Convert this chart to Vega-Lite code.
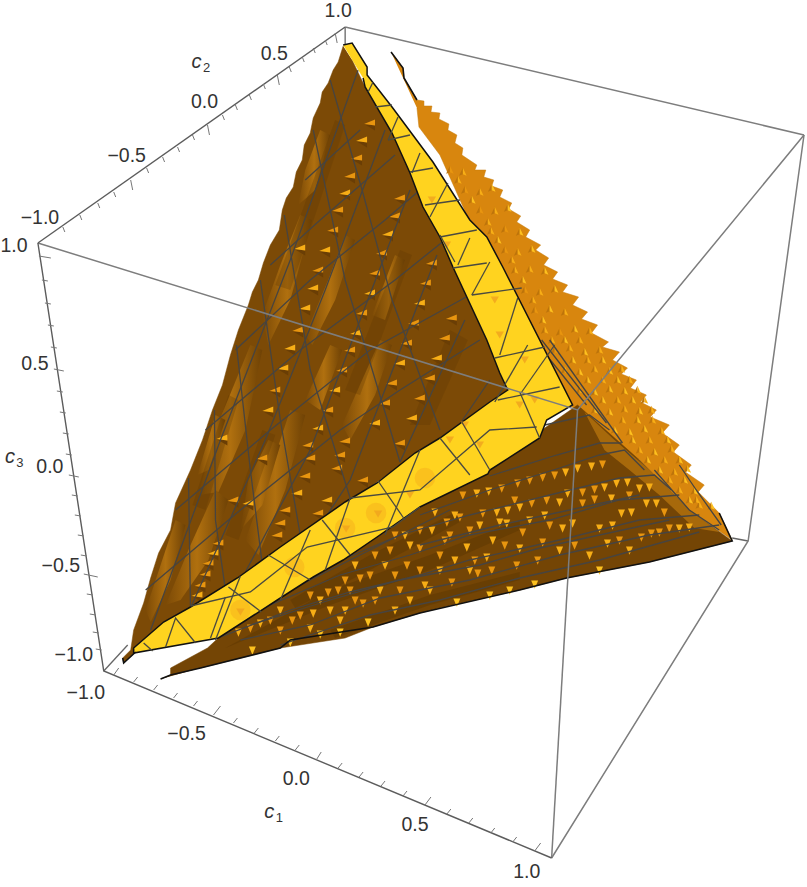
{"$schema":"https://vega.github.io/schema/vega-lite/v6.json","width":807,"height":887,"padding":0,"autosize":{"type":"fit","contains":"padding"},"background":"#ffffff","config":{"view":{"stroke":null}},
"datasets":{
"rightSurface":[{"x":391,"y":52},{"x":403,"y":68},{"x":404,"y":78},{"x":417,"y":100},{"x":424,"y":101},{"x":424,"y":106},{"x":432,"y":106},{"x":431,"y":112},{"x":440,"y":113},{"x":439,"y":119},{"x":449,"y":124},{"x":448,"y":130},{"x":457,"y":135},{"x":455,"y":143},{"x":463,"y":148},{"x":462,"y":155},{"x":477,"y":165},{"x":475,"y":170},{"x":486,"y":170},{"x":484,"y":177},{"x":494,"y":180},{"x":492,"y":186},{"x":503,"y":190},{"x":500,"y":197},{"x":512,"y":203},{"x":509,"y":209},{"x":521,"y":216},{"x":517,"y":222},{"x":530,"y":230},{"x":526,"y":237},{"x":541,"y":245},{"x":536,"y":250},{"x":549,"y":258},{"x":544,"y":265},{"x":558,"y":272},{"x":553,"y":279},{"x":568,"y":285},{"x":563,"y":292},{"x":579,"y":297},{"x":573,"y":305},{"x":588,"y":312},{"x":582,"y":319},{"x":598,"y":325},{"x":592,"y":333},{"x":609,"y":342},{"x":603,"y":347},{"x":620,"y":352},{"x":613,"y":360},{"x":628,"y":368},{"x":622,"y":374},{"x":637,"y":380},{"x":631,"y":388},{"x":647,"y":395},{"x":641,"y":402},{"x":657,"y":410},{"x":651,"y":417},{"x":670,"y":425},{"x":663,"y":433},{"x":680,"y":445},{"x":674,"y":452},{"x":692,"y":465},{"x":686,"y":472},{"x":705,"y":485},{"x":699,"y":492},{"x":720,"y":513},{"x":733,"y":540},{"x":690,"y":510},{"x":640,"y":460},{"x":570,"y":405},{"x":530,"y":340},{"x":490,"y":267},{"x":470,"y":222},{"x":440,"y":155},{"x":419,"y":127},{"x":417,"y":108}],
"lowerSurface":[{"x":160,"y":679},{"x":170,"y":675},{"x":170,"y":668},{"x":207,"y":648},{"x":220,"y":636},{"x":277,"y":598},{"x":343,"y":558},{"x":420,"y":507},{"x":488,"y":468},{"x":578,"y":405},{"x":640,"y":460},{"x":690,"y":510},{"x":733,"y":541},{"x":650,"y":562},{"x":567,"y":578},{"x":520,"y":590},{"x":440,"y":608},{"x":420,"y":613},{"x":373,"y":627},{"x":345,"y":638},{"x":280,"y":648},{"x":240,"y":658},{"x":200,"y":668}],
"lowerGlow":[{"x":585,"y":412},{"x":615,"y":440},{"x":650,"y":470},{"x":690,"y":510},{"x":720,"y":532},{"x":695,"y":528},{"x":660,"y":495},{"x":630,"y":470},{"x":605,"y":450}],
"lowerShade":[{"p":1,"x":225,"y":648},{"p":1,"x":330,"y":590},{"p":1,"x":430,"y":555},{"p":1,"x":520,"y":520},{"p":1,"x":520,"y":530},{"p":1,"x":430,"y":570},{"p":1,"x":330,"y":605},{"p":2,"x":290,"y":600},{"p":2,"x":370,"y":555},{"p":2,"x":460,"y":510},{"p":2,"x":460,"y":522},{"p":2,"x":370,"y":570},{"p":2,"x":295,"y":608},{"p":3,"x":330,"y":630},{"p":3,"x":430,"y":595},{"p":3,"x":520,"y":572},{"p":3,"x":520,"y":580},{"p":3,"x":430,"y":605},{"p":3,"x":335,"y":638}],
"leftSurface":[{"x":343,"y":46},{"x":338,"y":62},{"x":333,"y":70},{"x":328,"y":83},{"x":322,"y":92},{"x":320,"y":103},{"x":313,"y":118},{"x":310,"y":133},{"x":304,"y":145},{"x":302,"y":160},{"x":296,"y":172},{"x":293,"y":187},{"x":286,"y":198},{"x":282,"y":210},{"x":279,"y":230},{"x":270,"y":245},{"x":263,"y":263},{"x":258,"y":280},{"x":252,"y":292},{"x":248,"y":305},{"x":238,"y":330},{"x":230,"y":355},{"x":222,"y":385},{"x":212,"y":410},{"x":202,"y":440},{"x":190,"y":470},{"x":175,"y":503},{"x":170,"y":530},{"x":158,"y":553},{"x":150,"y":578},{"x":143,"y":603},{"x":133,"y":630},{"x":130,"y":650},{"x":122,"y":658},{"x":123,"y":663},{"x":135,"y":652},{"x":508,"y":390},{"x":487,"y":340},{"x":440,"y":237},{"x":392,"y":133},{"x":365,"y":87},{"x":352,"y":60}],
"leftRidges":[{"p":1,"x":250,"y":345},{"p":1,"x":262,"y":350},{"p":1,"x":245,"y":430},{"p":1,"x":218,"y":492},{"p":1,"x":198,"y":495},{"p":1,"x":215,"y":430},{"p":2,"x":300,"y":215},{"p":2,"x":312,"y":220},{"p":2,"x":290,"y":300},{"p":2,"x":268,"y":345},{"p":2,"x":262,"y":315},{"p":2,"x":280,"y":265},{"p":3,"x":215,"y":490},{"p":3,"x":228,"y":500},{"p":3,"x":208,"y":560},{"p":3,"x":180,"y":600},{"p":3,"x":165,"y":605},{"p":3,"x":190,"y":545},{"p":4,"x":290,"y":410},{"p":4,"x":305,"y":415},{"p":4,"x":285,"y":490},{"p":4,"x":258,"y":555},{"p":4,"x":245,"y":540},{"p":4,"x":270,"y":470},{"p":5,"x":345,"y":235},{"p":5,"x":355,"y":240},{"p":5,"x":335,"y":300},{"p":5,"x":312,"y":345},{"p":5,"x":305,"y":335},{"p":5,"x":328,"y":280},{"p":6,"x":380,"y":340},{"p":6,"x":392,"y":345},{"p":6,"x":375,"y":395},{"p":6,"x":350,"y":440},{"p":6,"x":342,"y":425},{"p":6,"x":362,"y":380},{"p":7,"x":175,"y":520},{"p":7,"x":185,"y":525},{"p":7,"x":170,"y":580},{"p":7,"x":150,"y":622},{"p":7,"x":145,"y":610},{"p":7,"x":160,"y":565},{"p":8,"x":320,"y":130},{"p":8,"x":330,"y":135},{"p":8,"x":315,"y":190},{"p":8,"x":298,"y":205},{"p":8,"x":305,"y":170},{"p":9,"x":268,"y":440},{"p":9,"x":280,"y":445},{"p":9,"x":262,"y":505},{"p":9,"x":240,"y":530},{"p":9,"x":248,"y":480},{"p":10,"x":330,"y":345},{"p":10,"x":342,"y":350},{"p":10,"x":320,"y":410},{"p":10,"x":305,"y":400},{"p":11,"x":395,"y":255},{"p":11,"x":405,"y":260},{"p":11,"x":385,"y":320},{"p":11,"x":372,"y":315},{"p":12,"x":215,"y":415},{"p":12,"x":225,"y":420},{"p":12,"x":208,"y":470},{"p":12,"x":197,"y":475}],
"leftDark":[{"p":1,"x":335,"y":120},{"p":1,"x":345,"y":125},{"p":1,"x":290,"y":290},{"p":1,"x":275,"y":285},{"p":2,"x":262,"y":430},{"p":2,"x":275,"y":435},{"p":2,"x":238,"y":540},{"p":2,"x":225,"y":535},{"p":3,"x":400,"y":250},{"p":3,"x":412,"y":255},{"p":3,"x":360,"y":395},{"p":3,"x":345,"y":390},{"p":4,"x":228,"y":395},{"p":4,"x":238,"y":400},{"p":4,"x":205,"y":510},{"p":4,"x":192,"y":505},{"p":5,"x":450,"y":330},{"p":5,"x":468,"y":340},{"p":5,"x":430,"y":425},{"p":5,"x":410,"y":425}],
"leftSpikes":[{"x":370,"y":125,"t":"a"},{"x":362,"y":142,"t":"b"},{"x":357,"y":160,"t":"a"},{"x":350,"y":178,"t":"a"},{"x":345,"y":195,"t":"b"},{"x":338,"y":212,"t":"a"},{"x":333,"y":232,"t":"a"},{"x":325,"y":252,"t":"b"},{"x":318,"y":272,"t":"a"},{"x":313,"y":290,"t":"b"},{"x":305,"y":310,"t":"b"},{"x":298,"y":332,"t":"a"},{"x":290,"y":350,"t":"b"},{"x":283,"y":370,"t":"b"},{"x":275,"y":392,"t":"a"},{"x":268,"y":412,"t":"b"},{"x":233,"y":502,"t":"a"},{"x":218,"y":545,"t":"a"},{"x":213,"y":555,"t":"b"},{"x":208,"y":565,"t":"a"},{"x":205,"y":576,"t":"a"},{"x":200,"y":587,"t":"a"},{"x":197,"y":597,"t":"b"},{"x":400,"y":200,"t":"a"},{"x":395,"y":218,"t":"a"},{"x":388,"y":236,"t":"b"},{"x":382,"y":255,"t":"a"},{"x":375,"y":275,"t":"a"},{"x":370,"y":295,"t":"b"},{"x":362,"y":315,"t":"a"},{"x":356,"y":335,"t":"b"},{"x":350,"y":352,"t":"a"},{"x":342,"y":372,"t":"a"},{"x":335,"y":392,"t":"b"},{"x":328,"y":412,"t":"a"},{"x":318,"y":430,"t":"b"},{"x":308,"y":447,"t":"a"},{"x":310,"y":460,"t":"a"},{"x":305,"y":478,"t":"a"},{"x":297,"y":495,"t":"b"},{"x":285,"y":512,"t":"a"},{"x":280,"y":525,"t":"a"},{"x":277,"y":537,"t":"a"},{"x":432,"y":265,"t":"a"},{"x":426,"y":285,"t":"a"},{"x":420,"y":305,"t":"b"},{"x":414,"y":325,"t":"a"},{"x":407,"y":345,"t":"a"},{"x":400,"y":365,"t":"b"},{"x":392,"y":385,"t":"a"},{"x":385,"y":405,"t":"a"},{"x":375,"y":425,"t":"b"},{"x":345,"y":443,"t":"a"},{"x":340,"y":457,"t":"a"},{"x":337,"y":470,"t":"a"},{"x":327,"y":502,"t":"b"},{"x":318,"y":515,"t":"a"},{"x":452,"y":320,"t":"a"},{"x":445,"y":340,"t":"a"},{"x":437,"y":360,"t":"b"},{"x":430,"y":380,"t":"a"},{"x":420,"y":400,"t":"a"},{"x":412,"y":420,"t":"b"},{"x":400,"y":445,"t":"a"},{"x":363,"y":482,"t":"a"},{"x":222,"y":440,"t":"b"},{"x":262,"y":460,"t":"a"},{"x":248,"y":505,"t":"b"},{"x":300,"y":250,"t":"b"}],
"lowerSpikes":[{"x":530,"y":480,"t":"a"},{"x":543,"y":477,"t":"a"},{"x":555,"y":475,"t":"a"},{"x":566,"y":472,"t":"b"},{"x":578,"y":468,"t":"b"},{"x":592,"y":466,"t":"b"},{"x":603,"y":464,"t":"a"},{"x":463,"y":495,"t":"a"},{"x":477,"y":493,"t":"b"},{"x":489,"y":491,"t":"b"},{"x":502,"y":488,"t":"a"},{"x":518,"y":483,"t":"a"},{"x":568,"y":493,"t":"b"},{"x":583,"y":492,"t":"a"},{"x":595,"y":489,"t":"a"},{"x":605,"y":487,"t":"b"},{"x":617,"y":483,"t":"b"},{"x":628,"y":482,"t":"b"},{"x":640,"y":488,"t":"b"},{"x":650,"y":487,"t":"b"},{"x":483,"y":513,"t":"a"},{"x":497,"y":512,"t":"b"},{"x":508,"y":510,"t":"b"},{"x":520,"y":507,"t":"b"},{"x":532,"y":503,"t":"a"},{"x":547,"y":500,"t":"a"},{"x":560,"y":502,"t":"b"},{"x":583,"y":503,"t":"a"},{"x":595,"y":499,"t":"a"},{"x":612,"y":498,"t":"b"},{"x":622,"y":513,"t":"b"},{"x":632,"y":512,"t":"b"},{"x":647,"y":503,"t":"b"},{"x":657,"y":503,"t":"b"},{"x":670,"y":528,"t":"a"},{"x":680,"y":528,"t":"b"},{"x":690,"y":527,"t":"b"},{"x":642,"y":537,"t":"a"},{"x":652,"y":533,"t":"a"},{"x":660,"y":532,"t":"a"},{"x":447,"y":522,"t":"a"},{"x":460,"y":517,"t":"a"},{"x":500,"y":522,"t":"b"},{"x":507,"y":523,"t":"b"},{"x":523,"y":532,"t":"a"},{"x":530,"y":520,"t":"b"},{"x":543,"y":542,"t":"a"},{"x":563,"y":528,"t":"b"},{"x":573,"y":523,"t":"b"},{"x":600,"y":528,"t":"b"},{"x":613,"y":525,"t":"b"},{"x":452,"y":582,"t":"a"},{"x":478,"y":573,"t":"a"},{"x":492,"y":570,"t":"a"},{"x":517,"y":565,"t":"a"},{"x":538,"y":560,"t":"a"},{"x":608,"y":543,"t":"b"},{"x":445,"y":540,"t":"a"},{"x":467,"y":547,"t":"b"},{"x":493,"y":540,"t":"b"},{"x":487,"y":557,"t":"b"},{"x":475,"y":560,"t":"a"},{"x":363,"y":603,"t":"a"},{"x":375,"y":555,"t":"a"},{"x":395,"y":535,"t":"a"},{"x":407,"y":565,"t":"a"},{"x":385,"y":565,"t":"b"},{"x":328,"y":592,"t":"a"},{"x":338,"y":590,"t":"a"},{"x":350,"y":590,"t":"a"},{"x":292,"y":620,"t":"a"},{"x":260,"y":623,"t":"b"},{"x":250,"y":628,"t":"a"},{"x":238,"y":632,"t":"b"},{"x":313,"y":613,"t":"b"},{"x":300,"y":615,"t":"a"},{"x":420,"y":570,"t":"a"},{"x":430,"y":590,"t":"b"},{"x":400,"y":590,"t":"a"},{"x":440,"y":570,"t":"b"},{"x":380,"y":590,"t":"b"},{"x":360,"y":578,"t":"a"},{"x":420,"y":530,"t":"a"},{"x":435,"y":512,"t":"b"},{"x":455,"y":560,"t":"b"},{"x":410,"y":545,"t":"b"},{"x":345,"y":610,"t":"b"},{"x":395,"y":610,"t":"b"},{"x":270,"y":620,"t":"a"},{"x":280,"y":610,"t":"b"},{"x":310,"y":595,"t":"a"},{"x":320,"y":600,"t":"b"},{"x":345,"y":580,"t":"a"},{"x":355,"y":565,"t":"b"},{"x":370,"y":575,"t":"a"},{"x":390,"y":550,"t":"a"},{"x":405,"y":535,"t":"b"},{"x":420,"y":548,"t":"a"},{"x":432,"y":530,"t":"b"},{"x":450,"y":535,"t":"a"},{"x":455,"y":515,"t":"b"},{"x":470,"y":530,"t":"a"},{"x":480,"y":525,"t":"b"},{"x":440,"y":555,"t":"a"},{"x":425,"y":585,"t":"b"},{"x":410,"y":600,"t":"b"},{"x":395,"y":575,"t":"a"},{"x":375,"y":600,"t":"a"},{"x":330,"y":610,"t":"b"},{"x":355,"y":600,"t":"a"},{"x":340,"y":620,"t":"b"},{"x":280,"y":630,"t":"a"},{"x":310,"y":628,"t":"b"},{"x":470,"y":570,"t":"b"},{"x":505,"y":545,"t":"a"},{"x":520,"y":548,"t":"b"},{"x":550,"y":525,"t":"a"},{"x":560,"y":550,"t":"b"},{"x":575,"y":545,"t":"a"},{"x":590,"y":555,"t":"b"},{"x":620,"y":540,"t":"a"},{"x":630,"y":550,"t":"b"},{"x":665,"y":512,"t":"a"},{"x":630,"y":495,"t":"a"},{"x":545,"y":515,"t":"b"},{"x":515,"y":500,"t":"a"},{"x":320,"y":634,"t":"c"},{"x":340,"y":632,"t":"c"},{"x":368,"y":622,"t":"c"},{"x":252,"y":650,"t":"c"},{"x":290,"y":642,"t":"c"},{"x":457,"y":602,"t":"c"},{"x":490,"y":595,"t":"c"},{"x":510,"y":590,"t":"c"},{"x":535,"y":584,"t":"c"},{"x":600,"y":570,"t":"c"}],
"rightSpikes":[{"x":450,"y":170,"t":"a"},{"x":463,"y":172,"t":"b"},{"x":465,"y":190,"t":"a"},{"x":480,"y":192,"t":"b"},{"x":492,"y":188,"t":"c"},{"x":480,"y":210,"t":"a"},{"x":495,"y":211,"t":"b"},{"x":508,"y":208,"t":"c"},{"x":491,"y":231,"t":"b"},{"x":505,"y":229,"t":"a"},{"x":520,"y":232,"t":"c"},{"x":505,"y":250,"t":"a"},{"x":518,"y":252,"t":"b"},{"x":532,"y":249,"t":"c"},{"x":515,"y":270,"t":"b"},{"x":530,"y":269,"t":"b"},{"x":545,"y":271,"t":"c"},{"x":525,"y":290,"t":"a"},{"x":540,"y":292,"t":"b"},{"x":555,"y":289,"t":"c"},{"x":535,"y":310,"t":"a"},{"x":550,"y":309,"t":"c"},{"x":565,"y":312,"t":"b"},{"x":545,"y":330,"t":"b"},{"x":560,"y":332,"t":"a"},{"x":575,"y":329,"t":"c"},{"x":590,"y":331,"t":"b"},{"x":555,"y":350,"t":"a"},{"x":570,"y":348,"t":"b"},{"x":585,"y":352,"t":"c"},{"x":600,"y":350,"t":"b"},{"x":565,"y":370,"t":"b"},{"x":580,"y":372,"t":"c"},{"x":595,"y":369,"t":"b"},{"x":610,"y":371,"t":"c"},{"x":622,"y":369,"t":"b"},{"x":580,"y":390,"t":"b"},{"x":595,"y":392,"t":"c"},{"x":610,"y":389,"t":"c"},{"x":625,"y":391,"t":"c"},{"x":638,"y":390,"t":"b"},{"x":595,"y":410,"t":"c"},{"x":610,"y":412,"t":"c"},{"x":625,"y":409,"t":"b"},{"x":640,"y":411,"t":"c"},{"x":652,"y":410,"t":"b"},{"x":615,"y":430,"t":"c"},{"x":630,"y":432,"t":"c"},{"x":645,"y":429,"t":"c"},{"x":662,"y":431,"t":"b"},{"x":640,"y":450,"t":"b"},{"x":655,"y":452,"t":"c"},{"x":672,"y":449,"t":"b"},{"x":660,"y":470,"t":"c"},{"x":675,"y":472,"t":"b"},{"x":688,"y":469,"t":"c"},{"x":680,"y":490,"t":"b"},{"x":695,"y":491,"t":"c"},{"x":700,"y":505,"t":"b"},{"x":712,"y":506,"t":"c"},{"x":458,"y":180,"t":"b"},{"x":472,"y":200,"t":"c"},{"x":488,"y":222,"t":"b"},{"x":498,"y":240,"t":"c"},{"x":512,"y":260,"t":"b"},{"x":523,"y":280,"t":"c"},{"x":533,"y":300,"t":"b"},{"x":543,"y":320,"t":"c"},{"x":552,"y":340,"t":"b"},{"x":565,"y":340,"t":"c"},{"x":580,"y":340,"t":"b"},{"x":573,"y":360,"t":"c"},{"x":588,"y":360,"t":"b"},{"x":603,"y":360,"t":"c"},{"x":588,"y":380,"t":"c"},{"x":603,"y":380,"t":"b"},{"x":618,"y":380,"t":"c"},{"x":630,"y":380,"t":"b"},{"x":603,"y":400,"t":"c"},{"x":618,"y":400,"t":"b"},{"x":633,"y":400,"t":"c"},{"x":645,"y":400,"t":"b"},{"x":623,"y":420,"t":"b"},{"x":638,"y":420,"t":"c"},{"x":653,"y":420,"t":"b"},{"x":668,"y":440,"t":"c"},{"x":650,"y":440,"t":"b"},{"x":633,"y":440,"t":"c"},{"x":648,"y":460,"t":"c"},{"x":665,"y":460,"t":"b"},{"x":680,"y":460,"t":"c"},{"x":670,"y":480,"t":"b"},{"x":685,"y":480,"t":"c"},{"x":697,"y":500,"t":"b"},{"x":690,"y":500,"t":"c"}],
"yellowBand":[{"x":343,"y":45},{"x":352,"y":43},{"x":367,"y":67},{"x":367,"y":75},{"x":392,"y":107},{"x":433,"y":162},{"x":470,"y":220},{"x":487,"y":237},{"x":503,"y":267},{"x":573,"y":405},{"x":547,"y":420},{"x":540,"y":438},{"x":490,"y":470},{"x":488,"y":474},{"x":420,"y":507},{"x":377,"y":537},{"x":343,"y":560},{"x":313,"y":577},{"x":277,"y":600},{"x":218,"y":638},{"x":133,"y":653},{"x":133,"y":648},{"x":163,"y":622},{"x":190,"y":607},{"x":237,"y":578},{"x":280,"y":547},{"x":345,"y":502},{"x":377,"y":483},{"x":415,"y":453},{"x":440,"y":438},{"x":490,"y":402},{"x":508,"y":390},{"x":500,"y":373},{"x":487,"y":340},{"x":453,"y":267},{"x":440,"y":237},{"x":423,"y":207},{"x":410,"y":173},{"x":392,"y":133},{"x":365,"y":87},{"x":363,"y":78}],
"blobsBig":[{"x":240,"y":610},{"x":376,"y":513},{"x":345,"y":528},{"x":425,"y":478},{"x":294,"y":567}],
"blobsSmall":[{"x":240,"y":612},{"x":378,"y":514},{"x":346,"y":529},{"x":450,"y":440},{"x":480,"y":445},{"x":520,"y":405},{"x":447,"y":245},{"x":432,"y":200},{"x":500,"y":335},{"x":525,"y":360},{"x":495,"y":300},{"x":535,"y":400},{"x":410,"y":495},{"x":465,"y":425}],
"lines":[{"p":"a1","x":330,"y":80},{"p":"a1","x":362,"y":190},{"p":"a1","x":392,"y":300},{"p":"a1","x":440,"y":430},{"p":"a2","x":313,"y":130},{"p":"a2","x":345,"y":280},{"p":"a2","x":400,"y":462},{"p":"a3","x":284,"y":215},{"p":"a3","x":310,"y":370},{"p":"a3","x":350,"y":498},{"p":"a4","x":260,"y":280},{"p":"a4","x":280,"y":420},{"p":"a4","x":300,"y":535},{"p":"a5","x":236,"y":345},{"p":"a5","x":250,"y":470},{"p":"a5","x":262,"y":565},{"p":"a6","x":214,"y":410},{"p":"a6","x":215,"y":520},{"p":"a6","x":225,"y":590},{"p":"a7","x":188,"y":478},{"p":"a7","x":190,"y":610},{"p":"b1","x":358,"y":70},{"p":"b1","x":290,"y":260},{"p":"b1","x":220,"y":440},{"p":"b1","x":150,"y":630},{"p":"b2","x":385,"y":130},{"p":"b2","x":325,"y":290},{"p":"b2","x":265,"y":440},{"p":"b2","x":190,"y":608},{"p":"b3","x":410,"y":190},{"p":"b3","x":310,"y":450},{"p":"b3","x":245,"y":572},{"p":"b4","x":437,"y":255},{"p":"b4","x":350,"y":480},{"p":"b4","x":325,"y":518},{"p":"b5","x":465,"y":320},{"p":"b5","x":400,"y":462},{"p":"b6","x":490,"y":380},{"p":"b6","x":460,"y":424},{"p":"c1","x":145,"y":590},{"p":"c1","x":240,"y":510},{"p":"c1","x":340,"y":430},{"p":"c1","x":400,"y":390},{"p":"c1","x":480,"y":340},{"p":"c2","x":175,"y":510},{"p":"c2","x":270,"y":430},{"p":"c2","x":370,"y":350},{"p":"c2","x":470,"y":295},{"p":"c3","x":205,"y":430},{"p":"c3","x":300,"y":350},{"p":"c3","x":395,"y":280},{"p":"c3","x":445,"y":240},{"p":"c4","x":235,"y":350},{"p":"c4","x":310,"y":280},{"p":"c4","x":385,"y":220},{"p":"c4","x":420,"y":190},{"p":"c5","x":270,"y":265},{"p":"c5","x":320,"y":220},{"p":"c5","x":395,"y":155},{"p":"c6","x":305,"y":180},{"p":"c6","x":360,"y":130},
{"p":"l1","x":220,"y":637},{"p":"l1","x":290,"y":610},{"p":"l1","x":350,"y":592},{"p":"l1","x":420,"y":575},{"p":"l1","x":470,"y":560},{"p":"l1","x":560,"y":540},{"p":"l1","x":640,"y":520},{"p":"l1","x":700,"y":515},{"p":"l2","x":270,"y":605},{"p":"l2","x":340,"y":575},{"p":"l2","x":410,"y":555},{"p":"l2","x":470,"y":535},{"p":"l2","x":550,"y":520},{"p":"l2","x":620,"y":500},{"p":"l2","x":680,"y":495},{"p":"l3","x":330,"y":565},{"p":"l3","x":400,"y":535},{"p":"l3","x":470,"y":515},{"p":"l3","x":550,"y":495},{"p":"l3","x":620,"y":478},{"p":"l3","x":655,"y":475},{"p":"l3","x":672,"y":490},{"p":"l4","x":420,"y":515},{"p":"l4","x":490,"y":490},{"p":"l4","x":560,"y":468},{"p":"l4","x":600,"y":455},{"p":"l4","x":625,"y":450},{"p":"l4","x":645,"y":470},{"p":"l5","x":490,"y":476},{"p":"l5","x":557,"y":455},{"p":"l5","x":600,"y":443},{"p":"l5","x":622,"y":443},{"p":"l6","x":545,"y":425},{"p":"l6","x":590,"y":415},{"p":"l6","x":610,"y":430},{"p":"l7","x":280,"y":645},{"p":"l7","x":370,"y":615},{"p":"l7","x":440,"y":600},{"p":"l7","x":520,"y":578},{"p":"l7","x":600,"y":560},{"p":"l7","x":700,"y":532},{"p":"l8","x":240,"y":640},{"p":"l8","x":310,"y":625},{"p":"l8","x":380,"y":598},{"p":"l8","x":470,"y":580},{"p":"l8","x":560,"y":555},{"p":"l8","x":650,"y":535},{"p":"l8","x":720,"y":525},{"p":"l9","x":680,"y":465},{"p":"l9","x":697,"y":490},{"p":"l9","x":722,"y":525},{"p":"l10","x":655,"y":470},{"p":"l10","x":690,"y":510},{"p":"l10","x":720,"y":530},{"p":"l11","x":300,"y":585},{"p":"l11","x":380,"y":545},{"p":"l11","x":450,"y":510},{"p":"l12","x":250,"y":625},{"p":"l12","x":330,"y":600},{"p":"l12","x":400,"y":580},{"p":"l12","x":480,"y":565},{"p":"l12","x":540,"y":548},{"p":"l12","x":600,"y":535},{"p":"l12","x":670,"y":520},{"p":"l13","x":420,"y":545},{"p":"l13","x":500,"y":525},{"p":"l13","x":570,"y":510},{"p":"l13","x":640,"y":495},
{"p":"r1","x":537,"y":343},{"p":"r1","x":587,"y":405},{"p":"r2","x":542,"y":340},{"p":"r2","x":607,"y":423},{"p":"r3","x":550,"y":340},{"p":"r3","x":623,"y":443}],
"bandMesh":[{"p":1,"x":143,"y":643},{"p":1,"x":152,"y":651},{"p":2,"x":165,"y":647},{"p":2,"x":175,"y":618},{"p":2,"x":195,"y":643},{"p":3,"x":210,"y":638},{"p":3,"x":225,"y":597},{"p":4,"x":228,"y":587},{"p":4,"x":261,"y":612},{"p":5,"x":190,"y":606},{"p":5,"x":250,"y":592},{"p":5,"x":307,"y":547},{"p":5,"x":393,"y":527},{"p":5,"x":420,"y":507},{"p":6,"x":240,"y":576},{"p":6,"x":215,"y":640},{"p":7,"x":268,"y":555},{"p":7,"x":310,"y":580},{"p":8,"x":310,"y":530},{"p":8,"x":280,"y":600},{"p":9,"x":322,"y":520},{"p":9,"x":350,"y":555},{"p":10,"x":350,"y":498},{"p":10,"x":325,"y":570},{"p":11,"x":378,"y":481},{"p":11,"x":405,"y":520},{"p":12,"x":420,"y":450},{"p":12,"x":385,"y":535},{"p":13,"x":350,"y":498},{"p":13,"x":420,"y":490},{"p":13,"x":490,"y":430},{"p":13,"x":537,"y":427},{"p":14,"x":440,"y":438},{"p":14,"x":470,"y":475},{"p":15,"x":462,"y":422},{"p":15,"x":490,"y":470},{"p":16,"x":498,"y":400},{"p":16,"x":560,"y":387},{"p":17,"x":520,"y":392},{"p":17,"x":540,"y":438},{"p":18,"x":528,"y":345},{"p":18,"x":495,"y":402},{"p":19,"x":555,"y":345},{"p":19,"x":522,"y":392},{"p":20,"x":495,"y":358},{"p":20,"x":545,"y":347},{"p":21,"x":518,"y":298},{"p":21,"x":500,"y":355},{"p":22,"x":472,"y":295},{"p":22,"x":522,"y":288},{"p":23,"x":453,"y":268},{"p":23,"x":487,"y":263},{"p":24,"x":440,"y":237},{"p":24,"x":477,"y":230},{"p":25,"x":455,"y":262},{"p":25,"x":440,"y":235},{"p":26,"x":425,"y":205},{"p":26,"x":460,"y":200},{"p":27,"x":448,"y":183},{"p":27,"x":430,"y":217},{"p":28,"x":410,"y":172},{"p":28,"x":433,"y":168},{"p":29,"x":420,"y":153},{"p":29,"x":412,"y":173},{"p":30,"x":388,"y":140},{"p":30,"x":410,"y":135},{"p":31,"x":398,"y":117},{"p":31,"x":388,"y":140},{"p":32,"x":375,"y":107},{"p":32,"x":392,"y":105},{"p":33,"x":373,"y":82},{"p":33,"x":368,"y":92},{"p":34,"x":470,"y":238},{"p":34,"x":458,"y":265},{"p":35,"x":490,"y":262},{"p":35,"x":472,"y":295}],
"blackEdges":[{"p":1,"x":160,"y":679},{"p":1,"x":170,"y":675},{"p":1,"x":200,"y":668},{"p":1,"x":280,"y":648},{"p":1,"x":290,"y":640},{"p":1,"x":373,"y":627},{"p":1,"x":420,"y":613},{"p":1,"x":520,"y":590},{"p":1,"x":567,"y":578},{"p":1,"x":650,"y":562},{"p":1,"x":733,"y":541},{"p":1,"x":720,"y":513},{"p":2,"x":122,"y":658},{"p":2,"x":123,"y":663},{"p":2,"x":135,"y":652},{"p":3,"x":391,"y":52},{"p":3,"x":403,"y":68},{"p":3,"x":404,"y":78},{"p":3,"x":417,"y":100}],
"backEdges":[{"p":1,"x":103,"y":671},{"p":1,"x":127,"y":645},{"p":2,"x":749,"y":541},{"p":2,"x":733,"y":538},{"p":3,"x":345,"y":27},{"p":3,"x":345,"y":45}],
"boxEdges":[{"p":1,"x":345,"y":27},{"p":1,"x":805,"y":135},{"p":2,"x":805,"y":135},{"p":2,"x":749,"y":541},{"p":2,"x":552,"y":858},{"p":3,"x":37,"y":243},{"p":3,"x":578,"y":410},{"p":3,"x":805,"y":135},{"p":4,"x":578,"y":410},{"p":4,"x":552,"y":858}],
"axisEdges":[{"p":1,"x":37,"y":243},{"p":1,"x":345,"y":27},{"p":2,"x":37,"y":243},{"p":2,"x":103,"y":671},{"p":2,"x":552,"y":858}],
"ticks":[{"x":62,"y":227,"x2":64,"y2":232},{"x":79,"y":215,"x2":81,"y2":220},{"x":97,"y":203,"x2":99,"y2":208},{"x":113,"y":192,"x2":115,"y2":197},{"x":130,"y":180,"x2":132,"y2":190},{"x":146,"y":168,"x2":148,"y2":173},{"x":162,"y":157,"x2":164,"y2":162},{"x":177,"y":147,"x2":179,"y2":152},{"x":192,"y":135,"x2":194,"y2":140},{"x":207,"y":125,"x2":209,"y2":135},{"x":222,"y":115,"x2":224,"y2":120},{"x":235,"y":105,"x2":237,"y2":110},{"x":249,"y":95,"x2":251,"y2":100},{"x":263,"y":84,"x2":265,"y2":89},{"x":277,"y":75,"x2":279,"y2":85},{"x":289,"y":67,"x2":291,"y2":72},{"x":302,"y":57,"x2":304,"y2":62},{"x":313,"y":48,"x2":315,"y2":53},{"x":325,"y":40,"x2":327,"y2":45},{"x":335,"y":33,"x2":337,"y2":43},
{"x":113,"y":675,"x2":118,"y2":668},{"x":133,"y":682,"x2":137,"y2":677},{"x":153,"y":690,"x2":157,"y2":685},{"x":173,"y":698,"x2":177,"y2":693},{"x":193,"y":706,"x2":197,"y2":701},{"x":213,"y":715,"x2":220,"y2":706},{"x":233,"y":723,"x2":237,"y2":718},{"x":254,"y":733,"x2":258,"y2":728},{"x":275,"y":741,"x2":279,"y2":736},{"x":295,"y":750,"x2":299,"y2":745},{"x":316,"y":760,"x2":321,"y2":752},{"x":338,"y":768,"x2":342,"y2":763},{"x":359,"y":777,"x2":363,"y2":772},{"x":381,"y":786,"x2":385,"y2":781},{"x":403,"y":796,"x2":407,"y2":791},{"x":425,"y":805,"x2":431,"y2":797},{"x":447,"y":814,"x2":451,"y2":809},{"x":469,"y":823,"x2":473,"y2":818},{"x":491,"y":833,"x2":495,"y2":828},{"x":513,"y":842,"x2":517,"y2":837},{"x":535,"y":851,"x2":541,"y2":843},
{"x":38,"y":256,"x2":50,"y2":258},{"x":41,"y":280,"x2":47,"y2":281},{"x":44,"y":303,"x2":50,"y2":304},{"x":47,"y":325,"x2":53,"y2":326},{"x":50,"y":347,"x2":56,"y2":348},{"x":53,"y":369,"x2":63,"y2":371},{"x":56,"y":391,"x2":62,"y2":392},{"x":59,"y":412,"x2":65,"y2":413},{"x":62,"y":433,"x2":68,"y2":434},{"x":65,"y":454,"x2":71,"y2":455},{"x":68,"y":475,"x2":78,"y2":477},{"x":71,"y":495,"x2":77,"y2":496},{"x":74,"y":515,"x2":80,"y2":516},{"x":77,"y":535,"x2":83,"y2":536},{"x":80,"y":555,"x2":86,"y2":556},{"x":83,"y":574,"x2":97,"y2":577},{"x":86,"y":594,"x2":92,"y2":595},{"x":89,"y":614,"x2":95,"y2":615},{"x":92,"y":632,"x2":98,"y2":633},{"x":95,"y":649,"x2":101,"y2":650}],
"labels":[{"x":338,"y":11,"t":"1.0"},{"x":274,"y":54,"t":"0.5"},{"x":204,"y":102,"t":"0.0"},{"x":126,"y":156,"t":"−0.5"},{"x":39,"y":218,"t":"−1.0"},{"x":13,"y":246,"t":"1.0"},{"x":34,"y":364,"t":"0.5"},{"x":49,"y":467,"t":"0.0"},{"x":60,"y":566,"t":"−0.5"},{"x":73,"y":655,"t":"−1.0"},{"x":85,"y":693,"t":"−1.0"},{"x":186,"y":734,"t":"−0.5"},{"x":296,"y":779,"t":"0.0"},{"x":415,"y":825,"t":"0.5"},{"x":527,"y":872,"t":"1.0"}],
"axisNames":[{"x":196,"y":62,"t":"c"},{"x":9,"y":457,"t":"c"},{"x":269,"y":812,"t":"c"}],
"axisSubs":[{"x":206,"y":68,"t":"2"},{"x":19,"y":463,"t":"3"},{"x":279,"y":818,"t":"1"}]
},
"encoding":{"x":{"field":"x","type":"quantitative","axis":null,"scale":{"domain":[0,807],"nice":false,"zero":false}},"y":{"field":"y","type":"quantitative","axis":null,"scale":{"domain":[887,0],"nice":false,"zero":false}}},
"layer":[
{"data":{"name":"backEdges"},"mark":{"type":"line","stroke":"#666666","strokeWidth":1.3},"encoding":{"detail":{"field":"p"},"order":{"value":null}}},
{"data":{"name":"rightSurface"},"mark":{"type":"line","fill":"#d8860e","stroke":"#c47a0b","strokeWidth":0.5},"encoding":{"order":{"value":null}}},
{"data":{"name":"rightSpikes"},"mark":{"type":"point","filled":true,"opacity":1,"size":230,"shape":"M-0.5,0.5L0,-0.55L0,0.3Z"},"encoding":{"color":{"value":"#bd740b"}}},
{"data":{"name":"rightSpikes"},"mark":{"type":"point","filled":true,"opacity":1,"size":230,"shape":"M0.5,0.5L0,-0.55L0,0.3Z"},"encoding":{"color":{"field":"t","legend":null,"scale":{"domain":["a","b","c"],"range":["#e8950f","#f7ae16","#fdc11f"]}}}},
{"data":{"name":"lowerSurface"},"mark":{"type":"line","fill":"#744505","stroke":"#744505","strokeWidth":0.5},"encoding":{"order":{"value":null}}},
{"data":{"name":"lowerGlow"},"mark":{"type":"line","fill":"#b0700d","opacity":0.85,"strokeWidth":0},"encoding":{"order":{"value":null}}},
{"data":{"name":"lowerShade"},"mark":{"type":"line","fill":"#5b3503","opacity":0.45,"strokeWidth":0},"encoding":{"detail":{"field":"p"},"order":{"value":null}}},
{"data":{"name":"lowerSpikes"},"mark":{"type":"point","filled":true,"opacity":1,"size":240,"shape":"M-0.45,-0.45L0.45,-0.45L0,0.6Z"},"encoding":{"color":{"field":"t","legend":null,"scale":{"domain":["a","b","c"],"range":["#b87410","#d98e18","#6b3f05"]}}}},
{"data":{"name":"leftSurface"},"mark":{"type":"line","fill":"#7c4a06","stroke":"#7c4a06","strokeWidth":0.5},"encoding":{"order":{"value":null}}},
{"data":{"name":"leftRidges"},"mark":{"type":"line","strokeWidth":0,"fill":{"gradient":"linear","x1":0,"x2":1,"y1":0,"y2":0,"stops":[{"offset":0,"color":"#7c4a06"},{"offset":0.5,"color":"#b0700f"},{"offset":1,"color":"#6f4205"}]}},"encoding":{"detail":{"field":"p"},"order":{"value":null}}},
{"data":{"name":"leftDark"},"mark":{"type":"line","fill":"#5f3703","opacity":0.3,"strokeWidth":0},"encoding":{"detail":{"field":"p"},"order":{"value":null}}},
{"data":{"name":"leftSpikes"},"mark":{"type":"point","filled":true,"opacity":1,"size":480,"shape":"M0.45,0.05L-0.55,-0.1L0.45,0.5Z"},"encoding":{"color":{"value":"#6a3e05"}}},
{"data":{"name":"leftSpikes"},"mark":{"type":"point","filled":true,"opacity":1,"size":480,"shape":"M0.45,-0.5L-0.55,-0.1L0.45,0.05Z"},"encoding":{"color":{"field":"t","legend":null,"scale":{"domain":["a","b"],"range":["#e8a020","#cc8616"]}}}},
{"data":{"name":"lines"},"mark":{"type":"line","stroke":"#474440","strokeWidth":1.3},"encoding":{"detail":{"field":"p"},"order":{"value":null}}},
{"data":{"name":"yellowBand"},"mark":{"type":"line","fill":"#ffd31f","stroke":"#111111","strokeWidth":1.5},"encoding":{"order":{"value":null}}},
{"data":{"name":"blobsBig"},"mark":{"type":"point","filled":true,"opacity":0.5,"size":420,"shape":"circle"},"encoding":{"color":{"value":"#f6b01c"}}},
{"data":{"name":"blobsSmall"},"mark":{"type":"point","filled":true,"opacity":0.8,"size":70,"shape":"triangle-down"},"encoding":{"color":{"value":"#f0a21e"}}},
{"data":{"name":"bandMesh"},"mark":{"type":"line","stroke":"#4a4a40","strokeWidth":1.3},"encoding":{"detail":{"field":"p"},"order":{"value":null}}},
{"data":{"name":"blackEdges"},"mark":{"type":"line","stroke":"#111111","strokeWidth":1.6},"encoding":{"detail":{"field":"p"},"order":{"value":null}}},
{"data":{"name":"boxEdges"},"mark":{"type":"line","stroke":"#7d7d7d","strokeWidth":1.5},"encoding":{"detail":{"field":"p"},"order":{"value":null}}},
{"data":{"name":"axisEdges"},"mark":{"type":"line","stroke":"#5c5c5c","strokeWidth":1.4},"encoding":{"detail":{"field":"p"},"order":{"value":null}}},
{"data":{"name":"ticks"},"mark":{"type":"rule","stroke":"#777777","strokeWidth":1},"encoding":{"x2":{"field":"x2"},"y2":{"field":"y2"}}},
{"data":{"name":"labels"},"mark":{"type":"text","font":"Liberation Sans","fontSize":19.5,"fill":"#333333"},"encoding":{"text":{"field":"t"}}},
{"data":{"name":"axisNames"},"mark":{"type":"text","font":"Liberation Sans","fontStyle":"italic","fontSize":20,"fill":"#333333"},"encoding":{"text":{"field":"t"}}},
{"data":{"name":"axisSubs"},"mark":{"type":"text","font":"Liberation Sans","fontSize":13,"fill":"#333333"},"encoding":{"text":{"field":"t"}}}
]}
